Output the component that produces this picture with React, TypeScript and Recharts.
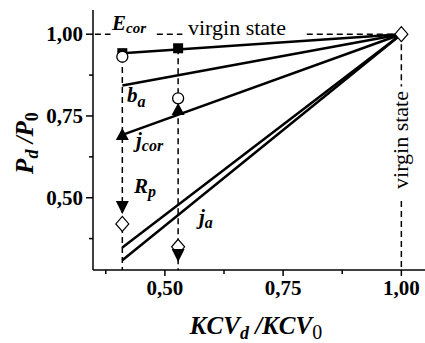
import { ComposedChart, XAxis, YAxis, Scatter } from 'recharts';

// KCV_d / KCV_0 levels
const kcvLevels = [0.41, 0.528, 1.0];
const fitEnds = [0.41, 1.0];

// markers (P_d / P_0)
const squareVals = [0.942, 0.957];
const circleVals = [0.931, 0.804];
const triUpVals = [0.692, 0.768];
const triDownVals = [0.472, 0.325];
const diamondVals = [0.42, 0.35, 1.0];

// fitted lines, left end value (all meet at 1,00)
const eCorFit = [0.942, 1.0];
const bAFit = [0.843, 1.0];
const jCorFit = [0.692, 1.0];
const jAUpperFit = [0.348, 1.0];
const jALowerFit = [0.309, 1.0];

const xTicks = [0.375, 0.5, 0.625, 0.75, 0.875, 1.0];
const yTicks = [0.375, 0.5, 0.625, 0.75, 0.875, 1.0];
const majorTicks = [0.5, 0.75, 1.0];

const FONT = "'Liberation Serif', 'DejaVu Serif', 'Times New Roman', Times, serif";

const pts = (xs: number[], ys: number[]) => ys.map((y, i) => ({ x: xs[i], y }));
const seg = (x1: number, y1: number, x2: number, y2: number) => [{ x: x1, y: y1 }, { x: x2, y: y2 }];

const dashed = [
  seg(0.41, 0.93, 0.41, 0.279),
  seg(0.528, 0.957, 0.528, 0.279),
  seg(1.0, 1.0, 1.0, 0.84),
  seg(1.0, 0.49, 1.0, 0.279),
  seg(0.352, 1.0, 0.385, 1.0),
  seg(0.483, 1.0, 0.537, 1.0),
  seg(0.8, 1.0, 1.0, 1.0),
];

const fits = [eCorFit, bAFit, jCorFit, jAUpperFit, jALowerFit];

const fmt = (v: number) => v.toFixed(2).replace('.', ',');

const XTick = (props: any) => {
  const { x, y, payload } = props;
  const major = majorTicks.includes(payload.value);
  return (
    <g>
      <line x1={x} x2={x} y1={y} y2={y + (major ? 6 : 4)} stroke="#000" strokeWidth={1.5} />
      {major && (
        <text x={x} y={y + 25} textAnchor="middle" fontFamily={FONT} fontWeight="bold" fontSize={21} fill="#000">
          {fmt(payload.value)}
        </text>
      )}
    </g>
  );
};

const YTick = (props: any) => {
  const { x, y, payload } = props;
  const major = majorTicks.includes(payload.value);
  return (
    <g>
      <line x1={x} x2={x - (major ? 7 : 4)} y1={y} y2={y} stroke="#000" strokeWidth={1.5} />
      {major && (
        <text x={x - 10} y={y + 7} textAnchor="end" fontFamily={FONT} fontWeight="bold" fontSize={21} fill="#000">
          {fmt(payload.value)}
        </text>
      )}
    </g>
  );
};

const none = () => <g />;
const square = (p: any) => <rect x={p.cx - 5} y={p.cy - 5} width={10} height={10} fill="#000" />;
const circle = (p: any) => <circle cx={p.cx} cy={p.cy} r={5.5} fill="#fff" stroke="#000" strokeWidth={1.3} />;
const triUp = (p: any) => (
  <polygon points={`${p.cx},${p.cy - 7} ${p.cx + 6.5},${p.cy + 5} ${p.cx - 6.5},${p.cy + 5}`} fill="#000" />
);
const triDown = (p: any) => (
  <polygon points={`${p.cx - 6.5},${p.cy - 6} ${p.cx + 6.5},${p.cy - 6} ${p.cx},${p.cy + 7}`} fill="#000" />
);
const diamond = (p: any) => (
  <polygon
    points={`${p.cx},${p.cy - 7.5} ${p.cx + 6.5},${p.cy} ${p.cx},${p.cy + 7.5} ${p.cx - 6.5},${p.cy}`}
    fill="#fff"
    stroke="#000"
    strokeWidth={1.2}
  />
);

export default function App() {
  const t = { fontFamily: FONT, fill: '#000' };
  return (
    <div style={{ position: 'absolute', left: 0, top: 0, width: 425, height: 343, background: '#fff' }}>
      <ComposedChart width={425} height={343} margin={{ top: 10, right: 0, bottom: 0, left: 0 }}>
        <XAxis
          type="number"
          dataKey="x"
          domain={[0.348, 1.05]}
          ticks={xTicks}
          tick={<XTick />}
          tickLine={false}
          tickSize={0}
          tickMargin={0}
          axisLine={{ stroke: '#000', strokeWidth: 1.5 }}
          height={73}
          allowDataOverflow
        />
        <YAxis
          type="number"
          dataKey="y"
          domain={[0.279, 1.074]}
          ticks={yTicks}
          tick={<YTick />}
          tickLine={false}
          tickSize={0}
          tickMargin={0}
          axisLine={{ stroke: '#000', strokeWidth: 1.5 }}
          width={93}
          allowDataOverflow
        />
        {dashed.map((d, i) => (
          <Scatter
            key={'d' + i}
            data={d}
            dataKey="y"
            line={{ stroke: '#000', strokeWidth: 1.5, strokeDasharray: '6 4' }}
            shape={none}
            isAnimationActive={false}
          />
        ))}
        {fits.map((f, i) => (
          <Scatter
            key={'f' + i}
            data={pts(fitEnds, f)}
            dataKey="y"
            line={{ stroke: '#000', strokeWidth: 2.5 }}
            shape={none}
            isAnimationActive={false}
          />
        ))}
        <Scatter data={pts(kcvLevels, squareVals)} dataKey="y" shape={square} isAnimationActive={false} />
        <Scatter data={pts(kcvLevels, circleVals)} dataKey="y" shape={circle} isAnimationActive={false} />
        <Scatter data={pts(kcvLevels, triUpVals)} dataKey="y" shape={triUp} isAnimationActive={false} />
        <Scatter data={pts(kcvLevels, diamondVals)} dataKey="y" shape={diamond} isAnimationActive={false} />
        <Scatter data={pts(kcvLevels, triDownVals)} dataKey="y" shape={triDown} isAnimationActive={false} />
      </ComposedChart>
      <svg width={425} height={343} style={{ position: 'absolute', left: 0, top: 0, pointerEvents: 'none' }}>
        <text x={112} y={30} {...t} fontSize={21} fontWeight="bold" fontStyle="italic">
          E<tspan fontSize={15} dy={3}>cor</tspan>
        </text>
        <text x={188} y={35} {...t} fontSize={22}>virgin state</text>
        <text x={401} y={140} {...t} fontSize={22} textAnchor="middle" dy="0.3em" transform="rotate(-90 401 140)">
          virgin state
        </text>
        <text x={127} y={102} {...t} fontSize={21} fontWeight="bold" fontStyle="italic">
          b<tspan fontSize={16} dy={5}>a</tspan>
        </text>
        <text x={136} y={147} {...t} fontSize={21} fontWeight="bold" fontStyle="italic">
          j<tspan fontSize={16} dy={4}>cor</tspan>
        </text>
        <text x={134} y={193} {...t} fontSize={21} fontWeight="bold" fontStyle="italic">
          R<tspan fontSize={16} dy={4}>p</tspan>
        </text>
        <text x={199} y={224} {...t} fontSize={21} fontWeight="bold" fontStyle="italic">
          j<tspan fontSize={16} dy={4}>a</tspan>
        </text>
        <text x={0} y={0} {...t} fontSize={25} fontWeight="bold" textAnchor="middle" transform="translate(33 143) rotate(-90)">
          <tspan fontStyle="italic">P</tspan>
          <tspan fontStyle="italic" fontSize={18} dy={5}>d</tspan>
          <tspan fontStyle="italic" dy={-5}> /P</tspan>
          <tspan fontSize={18} dy={5}>0</tspan>
        </text>
        <text x={256} y={334} {...t} fontSize={25} fontWeight="bold" textAnchor="middle">
          <tspan fontStyle="italic">KCV</tspan>
          <tspan fontStyle="italic" fontSize={18} dy={5}>d</tspan>
          <tspan fontStyle="italic" dy={-5}> /KCV</tspan>
          <tspan fontWeight="normal" fontSize={20} dy={5}>0</tspan>
        </text>
      </svg>
    </div>
  );
}
